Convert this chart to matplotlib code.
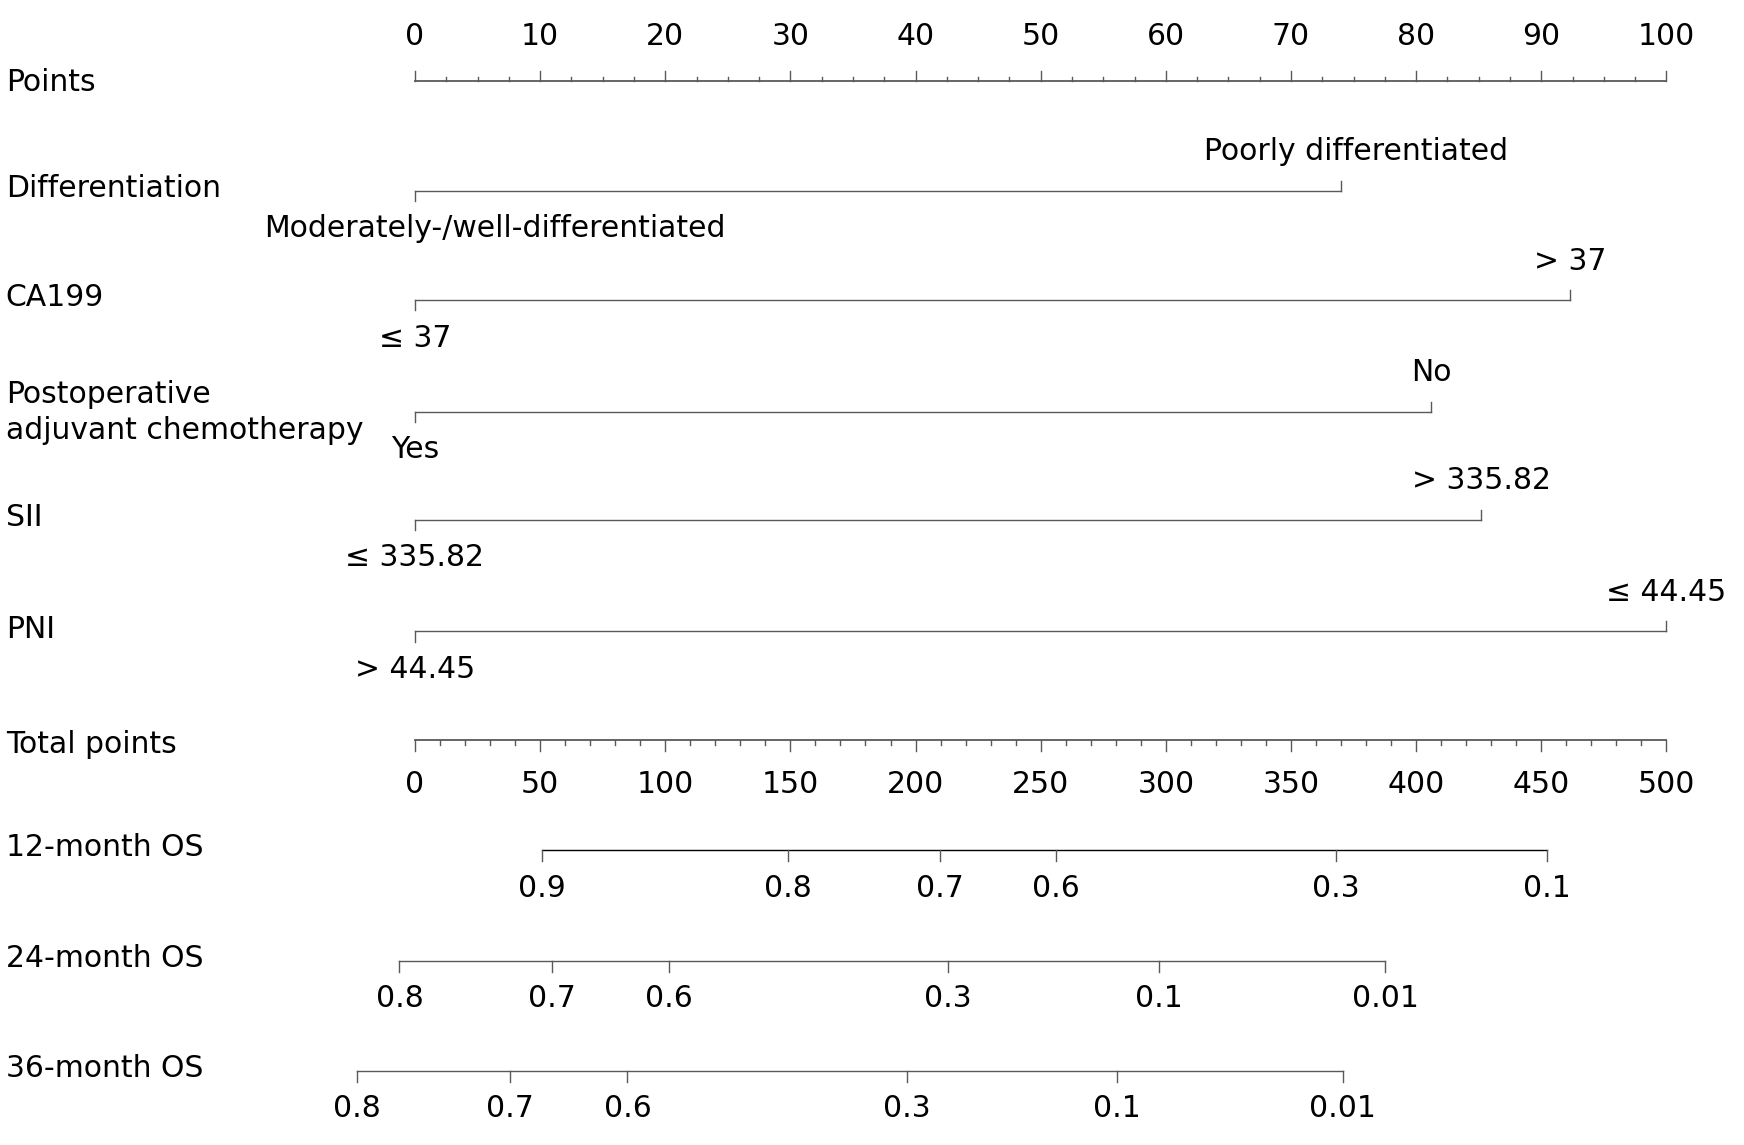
import numpy as np
import matplotlib
matplotlib.use("Agg")
import matplotlib.pyplot as plt

# Nomogram values
points_ticks = list(range(0, 101, 10))
total_ticks = list(range(0, 501, 50))

factor_names = ["Differentiation", "CA199", "Postoperative\nadjuvant chemotherapy", "SII", "PNI"]
low_labels = ["Moderately-/well-differentiated", "\u2264 37", "Yes", "\u2264 335.82", "> 44.45"]
high_labels = ["Poorly differentiated", "> 37", "No", "> 335.82", "\u2264 44.45"]
high_points = [74.0, 92.3, 81.2, 85.2, 100.0]

os_names = ["12-month OS", "24-month OS", "36-month OS"]
os_probs = [["0.9", "0.8", "0.7", "0.6", "0.3", "0.1"],
            ["0.8", "0.7", "0.6", "0.3", "0.1", "0.01"],
            ["0.8", "0.7", "0.6", "0.3", "0.1", "0.01"]]
os_total = [[50.7, 148.9, 209.8, 256.0, 368.0, 452.4],
            [-6.2, 54.7, 101.3, 212.9, 297.3, 387.6],
            [-23.1, 37.8, 84.9, 196.4, 280.4, 370.7]]

fs = 21.5
col = "0.35"

fig = plt.figure(figsize=(17.44, 11.45), dpi=100)
ax = fig.add_axes([0, 0, 1, 1])
ax.set_xlim(-33.16, 106.2)
ax.set_ylim(1026.3, 0)
ax.axis("off")

lab_x = -32.7

# Points axis
y = 73
ax.plot([0, 100], [y, y], color=col, lw=1.3)
for v in np.arange(0, 100.1, 2.5):
    L = 9 if v % 10 == 0 else 4
    ax.plot([v, v], [y, y - L], color=col, lw=1)
for v in points_ticks:
    ax.text(v, 33, str(v), ha="center", va="center", fontsize=fs)
ax.text(lab_x, 74, "Points", ha="left", va="center", fontsize=fs)

# factor rows
row_y = [171, 269, 369, 466, 566]
shift_low = [6.4, 0, 0, 0, 0]
shift_high = [1.2, 0, 0, 0, 0]
for i, name in enumerate(factor_names):
    y = row_y[i]
    hp = high_points[i]
    ax.plot([0, hp], [y, y], color=col, lw=1)
    ax.plot([0, 0], [y, y + 9], color=col, lw=1)
    ax.plot([hp, hp], [y, y - 9], color=col, lw=1)
    ax.text(0 + shift_low[i], y + 34, low_labels[i], ha="center", va="center", fontsize=fs)
    ax.text(hp + shift_high[i], y - 35, high_labels[i], ha="center", va="center", fontsize=fs)
    ny = y + 1 if "\n" in name else y - 2
    ax.text(lab_x, ny, name, ha="left", va="center", fontsize=fs, linespacing=1.3)

# Total points axis
y = 663
ax.plot([0, 100], [y, y], color=col, lw=1.3)
for t in range(0, 501, 10):
    L = 10 if t % 50 == 0 else 5
    ax.plot([t / 5, t / 5], [y, y + L], color=col, lw=1)
for t in total_ticks:
    ax.text(t / 5, 703, str(t), ha="center", va="center", fontsize=fs)
ax.text(lab_x, 667, "Total points", ha="left", va="center", fontsize=fs)

# survival axes
os_y = [762, 861, 960]
for i, name in enumerate(os_names):
    y = os_y[i]
    xs = [t / 5 for t in os_total[i]]
    c = "black" if i == 0 else col
    ax.plot([xs[0], xs[-1]], [y, y], color=c, lw=1)
    for x, p in zip(xs, os_probs[i]):
        ax.plot([x, x], [y, y + 10], color=col, lw=1)
        ax.text(x, y + 34, p, ha="center", va="center", fontsize=fs)
    ax.text(lab_x, y - 2, name, ha="left", va="center", fontsize=fs)

fig.savefig("out.png", dpi=100, facecolor="white")
